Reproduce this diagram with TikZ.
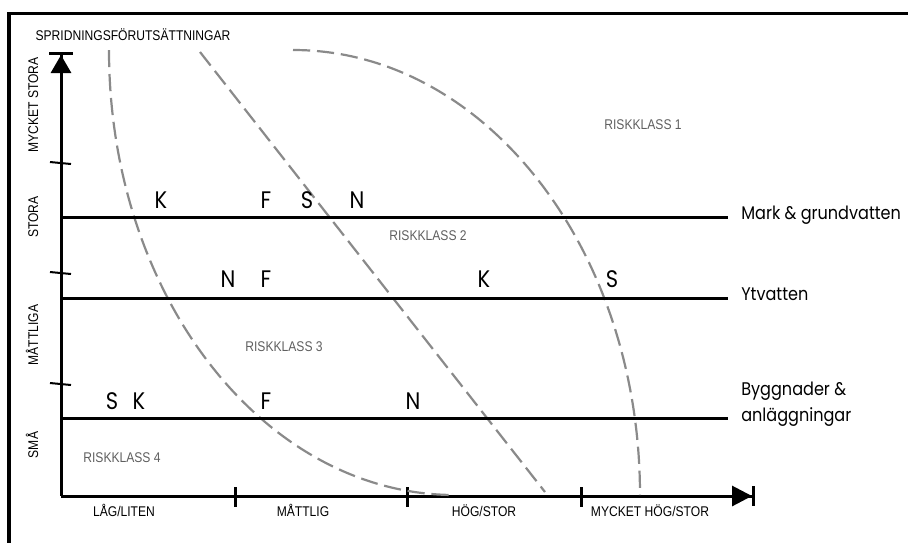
\documentclass[tikz,border=0pt]{standalone}
\usepackage{fontspec}
\usepackage{tikz}
\usetikzlibrary{arrows.meta,positioning}
\setmainfont{Poppins}
\newfontfamily\labelfont[FakeStretch=0.88]{Poppins}
\newfontfamily\condfont[FakeStretch=0.86]{Liberation Sans}
\definecolor{curvegray}{RGB}{138,138,138}
\definecolor{classgray}{RGB}{95,95,95}
\newcommand{\riskletter}[4]{\node[letterstyle,anchor=base] (#1) at (#2,#3) {#4};}
\newcommand{\smalllabel}[4]{\node[smallstyle,anchor=base] (#1) at (#2,#3) {#4};}
\newcommand{\sidelabel}[3]{\node[smallstyle,rotate=90,anchor=base] (#1) at (38,#2) {#3};}
\newcommand{\classlabel}[4]{\node[smallstyle,text=classgray,anchor=base] (#1) at (#2,#3) {#4};}
\newcommand{\xtick}[2]{\draw[axisline] (#1,487) coordinate (#2-a) -- (#1,507) coordinate (#2-b);}
\newcommand{\ytick}[2]{\draw[tickline] (50,#1-1) coordinate (#2-a) -- (71,#1+1) coordinate (#2-b);}
\begin{document}
\begin{tikzpicture}[x=0.025cm,y=-0.025cm,
  axisline/.style={line width=0.075cm},
  tickline/.style={line width=0.05cm},
  levelline/.style={line width=0.075cm},
  boundary/.style={curvegray,line width=0.055cm,dash pattern=on 0.43cm off 0.17cm},
  letterstyle/.style={inner sep=0pt,font=\labelfont\fontsize{17}{20}\selectfont},
  medlabel/.style={inner sep=0pt,font=\labelfont\fontsize{13}{17.8}\selectfont,align=left},
  smallstyle/.style={inner sep=0pt,font=\condfont\fontsize{10}{12}\selectfont}]
\useasboundingbox (0,0) rectangle (908,542);
\coordinate (framebl) at (9,560);
\coordinate (frametl) at (9,13);
\coordinate (frametr) at (920,13);
\draw[axisline] (framebl) -- (frametl) -- (frametr);
\coordinate (origin) at (61,496);
\coordinate (ytop) at (61,52);
\coordinate (xend) at (755,496);
\draw[axisline,-{Triangle[length=0.45cm,width=0.5cm]Bar[width=0.58cm]}] (origin) -- (ytop);
\draw[axisline,-{Triangle[length=0.5cm,width=0.5cm]Bar[width=0.5cm]}] (origin) -- (xend);
\ytick{163}{yt1}\ytick{273}{yt2}\ytick{384}{yt3}
\xtick{235}{xt1}\xtick{407}{xt2}\xtick{581}{xt3}
\draw[boundary] (109,50) coordinate (ka) arc[start angle=180,end angle=90,x radius=346,y radius=445] coordinate (kb);
\draw[boundary] (200,52) coordinate (kc) -- (545,492) coordinate (kd);
\draw[boundary] (293,50) coordinate (ke) arc[start angle=-90,end angle=0,x radius=347,y radius=445] coordinate (kf);
\coordinate (markl) at (61,217);\coordinate (markr) at (728,217);
\coordinate (ytl) at (61,298);\coordinate (ytr) at (728,298);
\coordinate (byggl) at (61,418);\coordinate (byggr) at (728,418);
\draw[levelline] (markl) -- (markr);
\draw[levelline] (ytl) -- (ytr);
\draw[levelline] (byggl) -- (byggr);
\node[medlabel,anchor=base west] (mark) at (741,219) {Mark \& grundvatten};
\node[medlabel,anchor=base west] (yt) at (741,300) {Ytvatten};
\node[medlabel,anchor=base west] (bygg) at (741,421) {Byggnader \&\\anläggningar};
\riskletter{k1}{161}{208}{K}\riskletter{f1}{266}{208}{F}\riskletter{s1}{307}{208}{S}\riskletter{n1}{357}{208}{N}
\riskletter{n2}{228}{287}{N}\riskletter{f2}{266}{287}{F}\riskletter{k2}{484}{287}{K}\riskletter{s2}{612}{287}{S}
\riskletter{s3}{112}{409}{S}\riskletter{k3}{139}{409}{K}\riskletter{f3}{266}{409}{F}\riskletter{n3}{413}{409}{N}
\smalllabel{title}{133}{40}{SPRIDNINGSFÖRUTSÄTTNINGAR}
\sidelabel{ymst}{105}{MYCKET STORA}
\sidelabel{yst}{217}{STORA}
\sidelabel{ymat}{335}{MÅTTLIGA}
\sidelabel{ysma}{445}{SMÅ}
\smalllabel{xlag}{124}{516}{LÅG/LITEN}
\smalllabel{xmat}{303}{516}{MÅTTLIG}
\smalllabel{xhog}{484}{516}{HÖG/STOR}
\smalllabel{xmhog}{650}{516}{MYCKET HÖG/STOR}
\classlabel{rk1}{643}{129}{RISKKLASS 1}
\classlabel{rk2}{428}{240}{RISKKLASS 2}
\classlabel{rk3}{284}{351}{RISKKLASS 3}
\classlabel{rk4}{122}{462}{RISKKLASS 4}
\end{tikzpicture}
\end{document}
